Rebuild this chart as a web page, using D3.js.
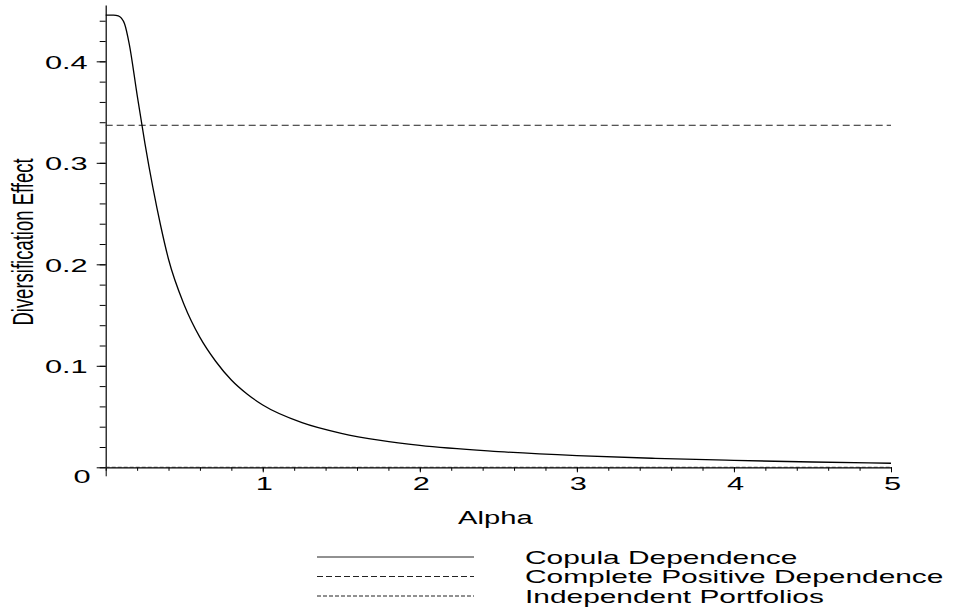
<!DOCTYPE html>
<html>
<head>
<meta charset="utf-8">
<script src="https://cdn.jsdelivr.net/npm/d3@7"></script>
<style>
  body { margin: 0; background: #fff; }
  text { font-family: "Liberation Sans", Arial, sans-serif; fill: #000; }
</style>
</head>
<body>
<div id="plot"></div>
<script>
// diversification effect as a function of the copula parameter alpha
const alpha  = [0, 0.05, 0.08, 0.1, 0.12, 0.15, 0.2, 0.25, 0.3, 0.35, 0.4, 0.5, 0.6, 0.7, 0.8, 0.9, 1,
                1.25, 1.5, 1.75, 2, 2.5, 3, 3.5, 4, 4.5, 5]
const copula = [0.4456, 0.4455, 0.4448, 0.4425, 0.437, 0.417, 0.367, 0.319, 0.276, 0.238, 0.205, 0.16,
                0.128, 0.1045, 0.086, 0.0722, 0.0614, 0.044, 0.0335, 0.0265, 0.0215, 0.0155, 0.0115,
                0.0088, 0.0068, 0.0052, 0.004]
const completeLevel = 0.337
const independentLevel = 0

const xMajor = [0, 1, 2, 3, 4, 5]
const xMinor = d3.range(0, 5.0001, 0.2)
const yMajor = [0, 0.1, 0.2, 0.3, 0.4]
const yMinor = d3.range(0, 0.4401, 0.02)
const legendLabels = ["Copula Dependence", "Complete Positive Dependence", "Independent Portfolios"]

let w = 960
let h = 609
let sx = 1.62   // glyphs come out wide in this plot style

let svg = d3.select("#plot").append("svg")
    .attr("width", w)
    .attr("height", h)

let x = d3.scaleLinear().domain([0, 5]).range([105.7, 891])
let y = d3.scaleLinear().domain([0, 0.4555]).range([467.3, 5])

// minor ticks
svg.append("g")
    .attr("transform", "translate(" + x(0) + ",0)")
    .call(d3.axisLeft(y).tickValues(yMinor).tickSize(6).tickFormat("").tickSizeOuter(0))
    .call(g => g.select(".domain").remove())
svg.append("g")
    .attr("transform", "translate(0," + y(0) + ")")
    .call(d3.axisBottom(x).tickValues(xMinor).tickSize(3.5).tickFormat("").tickSizeOuter(0))
    .call(g => g.select(".domain").remove())

// y axis
let yAxis = svg.append("g")
    .attr("transform", "translate(" + x(0) + ",0)")
    .call(d3.axisLeft(y).tickValues(yMajor).tickSize(9).tickSizeOuter(0)
        .tickFormat(d => d === 0 ? "0" : d3.format(".1f")(d)))
yAxis.selectAll("text")
    .attr("x", 0).attr("dy", null)
    .style("font-size", "19px")
    .attr("text-anchor", "end")
    .attr("transform", d => d === 0
        ? "translate(-15,15) scale(" + sx + ",1)"
        : "translate(-18,7) scale(" + sx + ",1)")

// x axis
let xAxis = svg.append("g")
    .attr("transform", "translate(0," + y(0) + ")")
    .call(d3.axisBottom(x).tickValues(xMajor).tickSize(5).tickSizeOuter(0)
        .tickFormat(d => d === 0 ? "" : d))
xAxis.selectAll("text")
    .attr("y", 0).attr("dy", null)
    .style("font-size", "19px")
    .attr("text-anchor", "middle")
    .attr("transform", "translate(1,23) scale(" + sx + ",1)")
xAxis.selectAll(".tick").filter(d => d === 0).select("line").attr("y2", 9)

svg.selectAll(".domain").attr("stroke", "#000").attr("stroke-width", 1.2)
svg.selectAll(".tick line").attr("stroke", "#000")

// reference lines
svg.append("line")
    .attr("x1", x(0)).attr("x2", x(5))
    .attr("y1", y(completeLevel)).attr("y2", y(completeLevel))
    .attr("stroke", "#222").attr("stroke-width", 1)
    .attr("stroke-dasharray", "7,4")
svg.append("line")
    .attr("x1", x(0)).attr("x2", x(5))
    .attr("y1", y(independentLevel)).attr("y2", y(independentLevel))
    .attr("stroke", "#222").attr("stroke-width", 1)
    .attr("stroke-dasharray", "4,2")

// copula curve
let line = d3.line()
    .x((d, i) => x(alpha[i]))
    .y(d => y(d))
    .curve(d3.curveMonotoneX)

svg.append("path")
    .datum(copula)
    .attr("fill", "none")
    .attr("stroke", "#000")
    .attr("stroke-width", 1.3)
    .attr("d", line)

// axis titles
svg.append("text")
    .attr("text-anchor", "middle")
    .style("font-size", "18px")
    .attr("transform", "translate(" + (x(2.5) - 3) + ",524) scale(" + sx + ",1)")
    .text("Alpha")

svg.append("text")
    .attr("text-anchor", "middle")
    .style("font-size", "18.5px")
    .attr("transform", "translate(32.5,242) scale(" + sx + ",1) rotate(-90)")
    .text("Diversification Effect")

// legend
let dashes = [null, "6,3", "4,2"]
let legendY = [557, 576.5, 596]
let legend = svg.append("g")
legendLabels.forEach((label, i) => {
    legend.append("line")
        .attr("x1", 317).attr("x2", 474)
        .attr("y1", legendY[i]).attr("y2", legendY[i])
        .attr("stroke", "#222").attr("stroke-width", 1)
        .attr("stroke-dasharray", dashes[i])
    legend.append("text")
        .style("font-size", "18px")
        .attr("transform", "translate(525," + (legendY[i] + 6.5) + ") scale(1.66,1)")
        .text(label)
})
</script>
</body>
</html>
